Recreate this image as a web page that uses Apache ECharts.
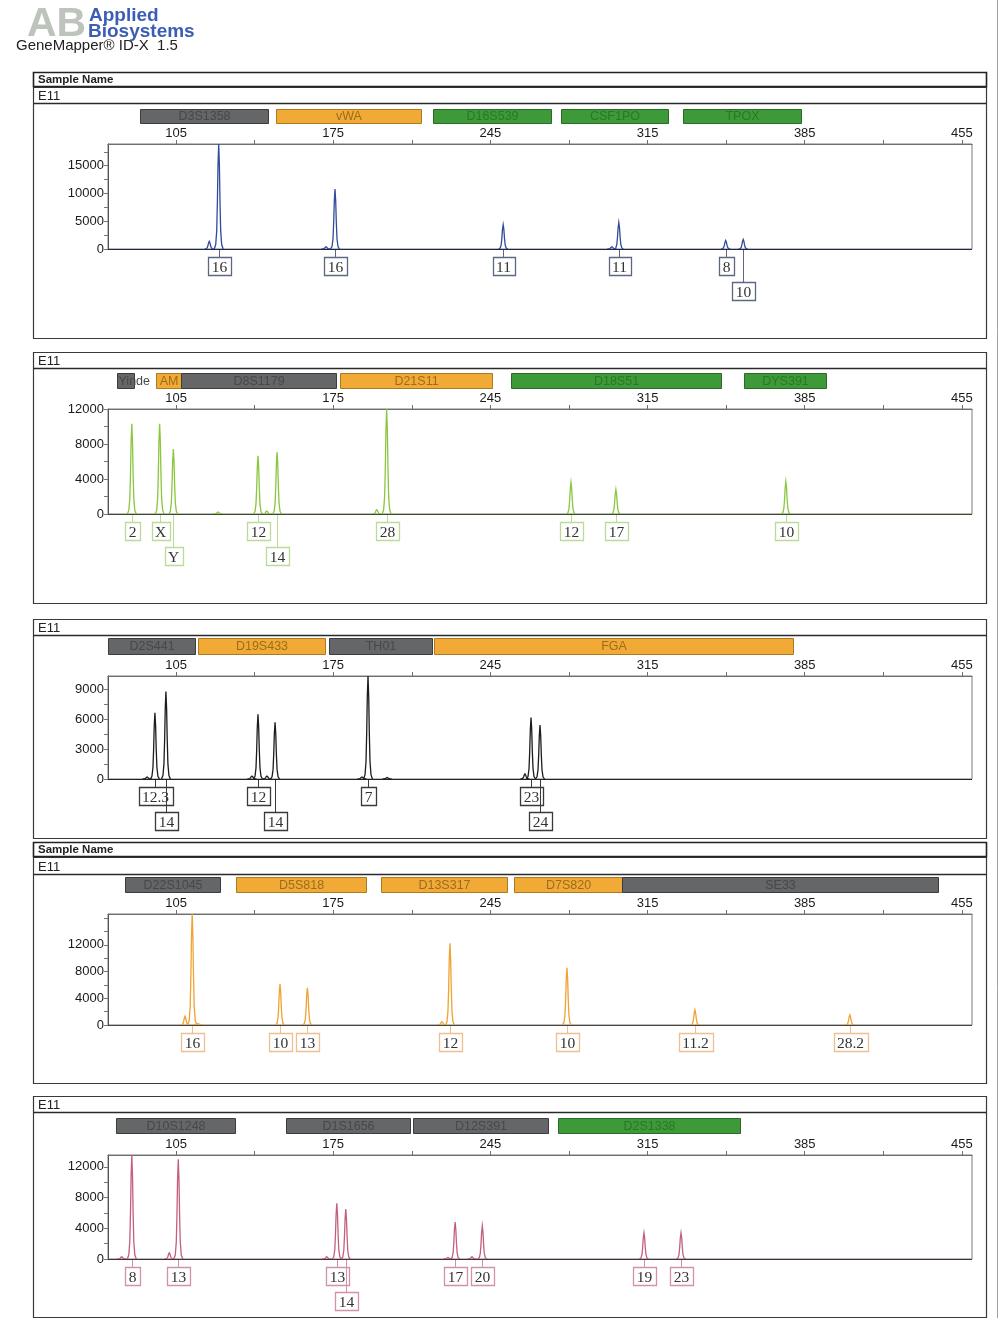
<!DOCTYPE html>
<html><head><meta charset="utf-8">
<script src="https://cdn.jsdelivr.net/npm/echarts@6/dist/echarts.min.js"></script>
<style>html,body{margin:0;padding:0;background:#fff}#c{width:1000px;height:1318px}</style>
</head><body><div id="c"></div>
<script>
// ---------- DATA ----------
const bpTicks = [105,140,175,210,245,280,315,350,385,420,455];
const bpLabels = [105,175,245,315,385,455];

// Panel 1 (blue)
const p1MarkerName  = ['D3S1358','vWA','D16S539','CSF1PO','TPOX'];
const p1MarkerStart = [89.0,149.5,219.4,276.4,330.8];
const p1MarkerEnd   = [146.0,214.1,272.0,324.1,383.3];
const p1MarkerDye   = ['gray','orange','green','green','green'];
const p1PeakPos     = [119.8,124.0,171.8,175.8,250.7,299.1,302.2,349.8,357.6];
const p1PeakHeight  = [1370,18900,400,10790,4370,400,4780,1550,1730];
const p1AlleleText  = ['16','16','11','11','8','10'];
const p1AllelePos   = [124.0,175.8,250.7,302.2,349.8,357.6];
const p1AlleleRow   = [1,1,1,1,1,2];
const p1YMax = 18900;
const p1YLabels = [0,5000,10000,15000];
const p1YTicks  = [0,2500,5000,7500,10000,12500,15000,17500];

// Panel 2 (green)
const p2MarkerName  = ['Yinde','AM','D8S1179','D21S11','D18S51','DYS391'];
const p2MarkerStart = [78.7,96.1,107.2,178.0,254.2,357.9];
const p2MarkerEnd   = [86.3,107.2,176.2,245.7,347.7,394.4];
const p2MarkerDye   = ['gray','orange','gray','orange','green','green'];
const p2PeakPos     = [85.3,97.7,103.8,123.7,141.5,145.4,150.0,194.4,198.8,280.9,300.9,376.6];
const p2PeakHeight  = [10320,10320,7430,230,6660,340,7090,490,12000,3600,2800,3700];
const p2AlleleText  = ['2','X','Y','12','14','28','12','17','10'];
const p2AllelePos   = [85.3,97.7,103.8,141.5,150.0,198.8,280.9,300.9,376.6];
const p2AlleleRow   = [1,1,2,1,2,1,1,1,1];
const p2YMax = 12000;
const p2YLabels = [0,4000,8000,12000];
const p2YTicks  = [0,2000,4000,6000,8000,10000,12000];

// Panel 3 (black)
const p3MarkerName  = ['D2S441','D19S433','TH01','FGA'];
const p3MarkerStart = [74.7,114.8,173.1,219.9];
const p3MarkerEnd   = [113.5,171.3,219.0,379.7];
const p3MarkerDye   = ['gray','orange','gray','orange'];
const p3PeakPos     = [92.1,95.6,100.5,138.8,141.5,145.5,149.1,187.8,190.5,199.0,260.4,263.1,267.1];
const p3PeakHeight  = [200,6610,8735,300,6480,300,5660,200,10300,150,500,6150,5400];
const p3AlleleText  = ['12.3','14','12','14','7','23','24'];
const p3AllelePos   = [95.6,100.5,141.5,149.1,190.5,263.1,267.1];
const p3AlleleRow   = [1,2,1,2,1,1,2];
const p3YMax = 10300;
const p3YLabels = [0,3000,6000,9000];
const p3YTicks  = [0,1500,3000,4500,6000,7500,9000];

// Panel 4 (orange)
const p4MarkerName  = ['D22S1045','D5S818','D13S317','D7S820','SE33'];
const p4MarkerStart = [82.3,131.7,196.3,255.5,303.6];
const p4MarkerEnd   = [124.6,189.6,252.5,303.6,444.3];
const p4MarkerDye   = ['gray','orange','orange','orange','gray'];
const p4PeakPos     = [109.0,112.2,114.8,151.3,163.5,223.4,227.0,279.1,336.1,405.1];
const p4PeakHeight  = [1300,16600,200,6140,5570,500,12240,8540,2250,1500];
const p4AlleleText  = ['16','10','13','12','10','11.2','28.2'];
const p4AllelePos   = [112.2,151.3,163.5,227.0,279.1,336.1,405.1];
const p4AlleleRow   = [1,1,1,1,1,1,1];
const p4YMax = 16600;
const p4YLabels = [0,4000,8000,12000];
const p4YTicks  = [0,2000,4000,6000,8000,10000,12000,14000,16000];

// Panel 5 (pink)
const p5MarkerName  = ['D10S1248','D1S1656','D12S391','D2S1338'];
const p5MarkerStart = [78.3,154.0,210.5,275.1];
const p5MarkerEnd   = [131.3,209.2,270.6,356.1];
const p5MarkerDye   = ['gray','gray','gray','green'];
const p5PeakPos     = [80.8,85.3,102.0,106.0,172.1,176.6,180.6,226.1,229.3,236.8,241.4,313.4,329.9];
const p5PeakHeight  = [300,13550,800,13000,300,7250,6500,200,4800,300,4300,3400,3400];
const p5AlleleText  = ['8','13','13','14','17','20','19','23'];
const p5AllelePos   = [85.3,106.0,176.6,180.6,229.3,241.4,313.4,329.9];
const p5AlleleRow   = [1,1,1,2,1,1,1,1];
const p5YMax = 13550;
const p5YLabels = [0,4000,8000,12000];
const p5YTicks  = [0,2000,4000,6000,8000,10000,12000];

// ---------- RENDER ----------
const XMIN = 74.7, XMAX = 459.5;
const FONT = "'Liberation Sans', Arial, sans-serif";
const SERIF = "'Liberation Serif', 'Times New Roman', serif";
const mctx = document.createElement('canvas').getContext('2d');
function tw(t, font){ mctx.font = font; return mctx.measureText(t).width; }

const DYE = {
  gray:   {fill:'#646668', stroke:'#3c3c3c', text:'#474849'},
  orange: {fill:'#f2aa36', stroke:'#ad7a24', text:'#9c6c1e'},
  green:  {fill:'#3e9a39', stroke:'#2b6b27', text:'#2b7727'}
};

const panels = [
 {mName:p1MarkerName,mStart:p1MarkerStart,mEnd:p1MarkerEnd,mDye:p1MarkerDye,pPos:p1PeakPos,pH:p1PeakHeight,aText:p1AlleleText,aPos:p1AllelePos,aRow:p1AlleleRow,yMax:p1YMax,yLabels:p1YLabels,yTicks:p1YTicks,
  trace:'#2f4b9c', base:'#1d2747', box:'#5d6782', top:144, bottom:249, barTop:109, barH:14, fTop:87, fDiv:103, fBot:338},
 {mName:p2MarkerName,mStart:p2MarkerStart,mEnd:p2MarkerEnd,mDye:p2MarkerDye,pPos:p2PeakPos,pH:p2PeakHeight,aText:p2AlleleText,aPos:p2AllelePos,aRow:p2AlleleRow,yMax:p2YMax,yLabels:p2YLabels,yTicks:p2YTicks,
  trace:'#8cc63e', base:'#3d4a2c', box:'#bcdb98', top:409, bottom:514, barTop:373, barH:15, fTop:352, fDiv:368, fBot:603},
 {mName:p3MarkerName,mStart:p3MarkerStart,mEnd:p3MarkerEnd,mDye:p3MarkerDye,pPos:p3PeakPos,pH:p3PeakHeight,aText:p3AlleleText,aPos:p3AllelePos,aRow:p3AlleleRow,yMax:p3YMax,yLabels:p3YLabels,yTicks:p3YTicks,
  trace:'#1c1c1c', base:'#222', box:'#3a3a3a', top:676, bottom:779, barTop:638, barH:16, fTop:619, fDiv:635, fBot:838},
 {mName:p4MarkerName,mStart:p4MarkerStart,mEnd:p4MarkerEnd,mDye:p4MarkerDye,pPos:p4PeakPos,pH:p4PeakHeight,aText:p4AlleleText,aPos:p4AllelePos,aRow:p4AlleleRow,yMax:p4YMax,yLabels:p4YLabels,yTicks:p4YTicks,
  trace:'#f0a232', base:'#4a443c', box:'#efbf8e', top:914, bottom:1025, barTop:877, barH:15, fTop:857, fDiv:874, fBot:1083},
 {mName:p5MarkerName,mStart:p5MarkerStart,mEnd:p5MarkerEnd,mDye:p5MarkerDye,pPos:p5PeakPos,pH:p5PeakHeight,aText:p5AlleleText,aPos:p5AllelePos,aRow:p5AlleleRow,yMax:p5YMax,yLabels:p5YLabels,yTicks:p5YTicks,
  trace:'#c2607c', base:'#463038', box:'#d392aa', top:1155, bottom:1259, barTop:1118, barH:15, fTop:1096, fDiv:1112, fBot:1317}
];

const grid = [], xAxis = [], yAxis = [], series = [];
const PROFILE = [[-4.5,0],[-3,0.04],[-2,0.17],[-1.3,0.45],[-0.7,0.8],[0,1],[0.7,0.8],[1.3,0.45],[2,0.17],[3,0.04],[4.5,0]];

panels.forEach((P,k) => {
  grid.push({left:108, right:28, top:P.top, height:P.bottom-P.top, show:true, borderColor:'#7a7a7a', borderWidth:1, backgroundColor:'#fff'});
  grid.push({left:108, right:28, top:P.barTop, height:P.barH});
  xAxis.push({gridIndex:2*k, type:'value', position:'top', min:XMIN, max:XMAX,
    axisLine:{show:true, onZero:false, lineStyle:{color:'#6f6f6f', width:1}},
    axisTick:{show:true, customValues:bpTicks, length:4, lineStyle:{color:'#6f6f6f'}},
    axisLabel:{show:true, customValues:bpLabels, margin:4, color:'#1a1a1a', fontSize:13, fontFamily:FONT, formatter:v=>String(v)},
    splitLine:{show:false}});
  xAxis.push({gridIndex:2*k+1, type:'value', min:XMIN, max:XMAX, show:false});
  yAxis.push({gridIndex:2*k, type:'value', min:0, max:P.yMax,
    axisLine:{show:true, lineStyle:{color:'#555', width:1}},
    axisTick:{show:true, customValues:P.yTicks, length:4, lineStyle:{color:'#777'}},
    axisLabel:{show:true, customValues:P.yLabels, margin:4, color:'#1a1a1a', fontSize:13, fontFamily:FONT, formatter:v=>String(v)},
    splitLine:{show:false}});
  yAxis.push({gridIndex:2*k+1, type:'value', min:0, max:1, show:false});

  // markers
  series.push({type:'custom', xAxisIndex:2*k+1, yAxisIndex:2*k+1, silent:true, clip:false,
    data:P.mStart.map((s,i)=>[s, P.mEnd[i]]),
    renderItem:(params, api) => {
      const i = params.dataIndex;
      const a = api.coord([api.value(0), 0]), b = api.coord([api.value(1), 1]);
      const x = Math.round(a[0])+0.5, y = Math.round(b[1])+0.5;
      const w = Math.round(b[0]-a[0]), h = Math.round(a[1]-b[1]);
      const d = DYE[P.mDye[i]], name = P.mName[i];
      const font = '12.5px '+FONT;
      const fits = tw(name, font) < w - 2;
      return {type:'group', children:[
        {type:'rect', shape:{x, y, width:w, height:h}, style:{fill:d.fill, stroke:d.stroke, lineWidth:1}},
        {type:'text', x: fits ? x + w/2 : x + 1, y: y + h/2 + 0.5,
          style:{text:name, font, fill:d.text, align: fits ? 'center':'left', verticalAlign:'middle'}}
      ]};
    }});

  // peaks
  series.push({type:'custom', xAxisIndex:2*k, yAxisIndex:2*k, silent:true, clip:false, z:3,
    data:P.pPos.map((p,i)=>[p, P.pH[i]]),
    renderItem:(params, api) => {
      const pos = api.value(0), h = Math.min(api.value(1), P.yMax);
      const b = api.coord([pos, 0]), t = api.coord([pos, h]);
      const H = b[1]-t[1];
      return {type:'polyline', shape:{points:PROFILE.map(q=>[b[0]+q[0], b[1]-q[1]*H])},
        style:{stroke:P.trace, fill:null, lineWidth:1.3}};
    },
    markLine:{silent:true, symbol:'none', label:{show:false}, animation:false,
      lineStyle:{color:P.base, width:1.2, type:'solid'}, data:[{yAxis:0}]}
  });

  // allele labels
  series.push({type:'custom', xAxisIndex:2*k, yAxisIndex:2*k, silent:true, clip:false, z:4,
    data:P.aPos.map((p,i)=>[p, 0]),
    renderItem:(params, api) => {
      const i = params.dataIndex;
      const b = api.coord([api.value(0), 0]);
      const x = Math.round(b[0])+0.5, y0 = Math.round(b[1]);
      const off = P.aRow[i] === 1 ? 8 : 33;
      const text = P.aText[i];
      const font = '15.5px '+SERIF;
      const w = Math.round(tw(text, font) + 7), h = 18;
      return {type:'group', children:[
        {type:'line', shape:{x1:x, y1:y0, x2:x, y2:y0+off}, style:{stroke:P.box, lineWidth:1}},
        {type:'rect', shape:{x:Math.round(x-w/2)+0.5, y:y0+off+0.5, width:w, height:h}, style:{fill:'#fff', stroke:P.box, lineWidth:1.3}},
        {type:'text', x:x, y:y0+off+h/2+1.5, style:{text, font, fill:'#333', align:'center', verticalAlign:'middle'}}
      ]};
    }});
});

// frames and header
const g = [];
g.push({type:'line', shape:{x1:997.5,y1:0,x2:997.5,y2:1318}, style:{stroke:'#a0a0a0', lineWidth:1}, z:-1});
g.push({type:'text', x:27, y:4, style:{text:'AB', font:'bold 41px '+FONT, fill:'#bcc4bc'}});
g.push({type:'text', x:89, y:6, style:{text:'Applied', font:'bold 19px '+FONT, fill:'#3b5db6'}});
g.push({type:'text', x:88, y:22, style:{text:'Biosystems', font:'bold 19px '+FONT, fill:'#3b5db6'}});
g.push({type:'text', x:16, y:38, style:{text:'GeneMapper\u00ae ID-X  1.5', font:'15px '+FONT, fill:'#222'}});

function sampleRow(y){
  g.push({type:'rect', shape:{x:33.5, y:y+0.5, width:953, height:14}, style:{fill:'#fff', stroke:'#222', lineWidth:1.6}});
  g.push({type:'text', x:38, y:y+8, style:{text:'Sample Name', font:'bold 11.5px '+FONT, fill:'#222', verticalAlign:'middle'}});
}
sampleRow(72);
sampleRow(842);
panels.forEach(P => {
  g.push({type:'rect', shape:{x:33.5, y:P.fTop+0.5, width:953, height:P.fBot-P.fTop}, style:{fill:null, stroke:'#3a3a3a', lineWidth:1.2}, z:-1});
  g.push({type:'line', shape:{x1:33.5, y1:P.fDiv+0.5, x2:986.5, y2:P.fDiv+0.5}, style:{stroke:'#2a2a2a', lineWidth:1.4}});
  g.push({type:'text', x:38, y:(P.fTop+P.fDiv)/2+1.5, style:{text:'E11', font:'13px '+FONT, fill:'#222', verticalAlign:'middle'}});
});

const chart = echarts.init(document.getElementById('c'), null, {renderer:'canvas', width:1000, height:1318});
chart.setOption({
  animation:false,
  backgroundColor:'#fff',
  graphic:{elements:g},
  grid, xAxis, yAxis, series
});
</script>
</body></html>
